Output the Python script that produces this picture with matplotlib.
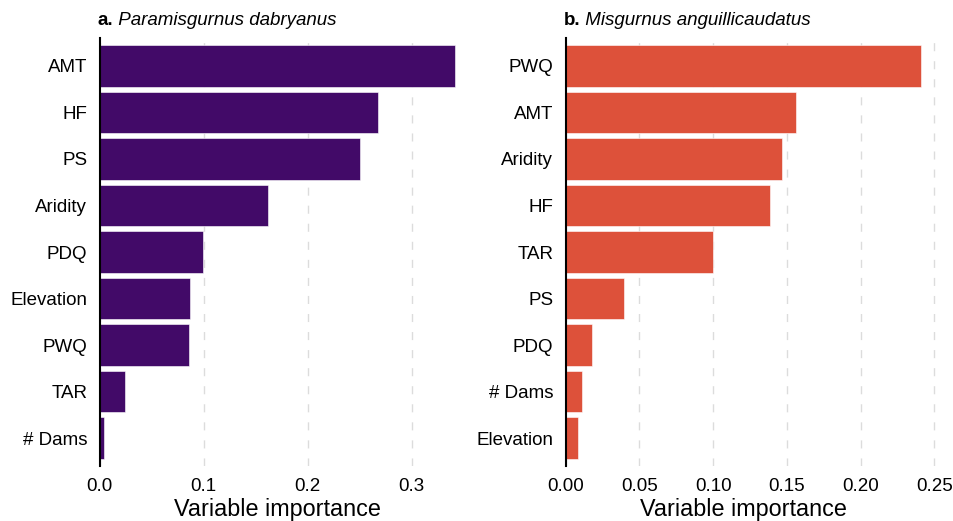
import matplotlib.pyplot as plt

plt.rcParams['font.family'] = ['Liberation Sans', 'DejaVu Sans']

# panel a: Paramisgurnus dabryanus
vars_a = ['AMT', 'HF', 'PS', 'Aridity', 'PDQ', 'Elevation', 'PWQ', 'TAR', '# Dams']
imp_a = [0.342, 0.268, 0.250, 0.1615, 0.099, 0.087, 0.086, 0.024, 0.004]

# panel b: Misgurnus anguillicaudatus
vars_b = ['PWQ', 'AMT', 'Aridity', 'HF', 'TAR', 'PS', 'PDQ', '# Dams', 'Elevation']
imp_b = [0.2413, 0.1563, 0.1468, 0.1387, 0.100, 0.0394, 0.0177, 0.0109, 0.0082]

ticks_a = [0.0, 0.1, 0.2, 0.3]
ticks_b = [0.0, 0.05, 0.10, 0.15, 0.20, 0.25]

fig = plt.figure(figsize=(9.54, 5.21), dpi=100)
ax1 = fig.add_axes([0.1045, 0.1056, 0.3815, 0.8214])
ax2 = fig.add_axes([0.593, 0.1056, 0.394, 0.8214])


def draw(ax, names, vals, color, ticks, xmax, letter, species, fmt, labx):
    ypos = list(range(len(names)))[::-1]
    ax.barh(ypos, vals, height=0.9, color=color, edgecolor='white',
            linewidth=0.4, zorder=2)
    ax.set_yticks(ypos)
    ax.set_yticklabels(names)
    ax.set_ylim(-0.6, len(names) - 0.4)
    ax.set_xlim(0, xmax)
    ax.set_xticks(ticks)
    ax.set_xticklabels([fmt.format(t) for t in ticks])
    ax.tick_params(axis='both', length=0, labelsize=13.5)
    ax.tick_params(axis='y', pad=9)
    ax.tick_params(axis='x', pad=8.5)
    ax.grid(axis='x', color='#dcdcdc', linewidth=1.0,
            linestyle=(0, (5.8, 7.2)), zorder=0)
    ax.set_axisbelow(True)
    for s in ['top', 'right', 'bottom']:
        ax.spines[s].set_visible(False)
    ax.spines['left'].set_linewidth(1.5)
    ax.spines['left'].set_zorder(3)
    ax.set_xlabel('Variable importance', fontsize=16.8)
    ax.xaxis.set_label_coords(labx, -0.075)
    t1 = ax.text(-0.005, 1.02, letter, transform=ax.transAxes,
                 fontsize=13.5, fontweight='bold', ha='left', va='bottom')
    ax.annotate(' ' + species, xy=(1, 0), xycoords=t1, fontsize=13.5,
                fontstyle='italic', ha='left', va='bottom')


draw(ax1, vars_a, imp_a, '#420A68', ticks_a, 0.35, 'a.',
     'Paramisgurnus dabryanus', '{:.1f}', 0.488)
draw(ax2, vars_b, imp_b, '#DD513A', ticks_b, 0.255, 'b.',
     'Misgurnus anguillicaudatus', '{:.2f}', 0.473)

fig.savefig('out.png', dpi=100)
